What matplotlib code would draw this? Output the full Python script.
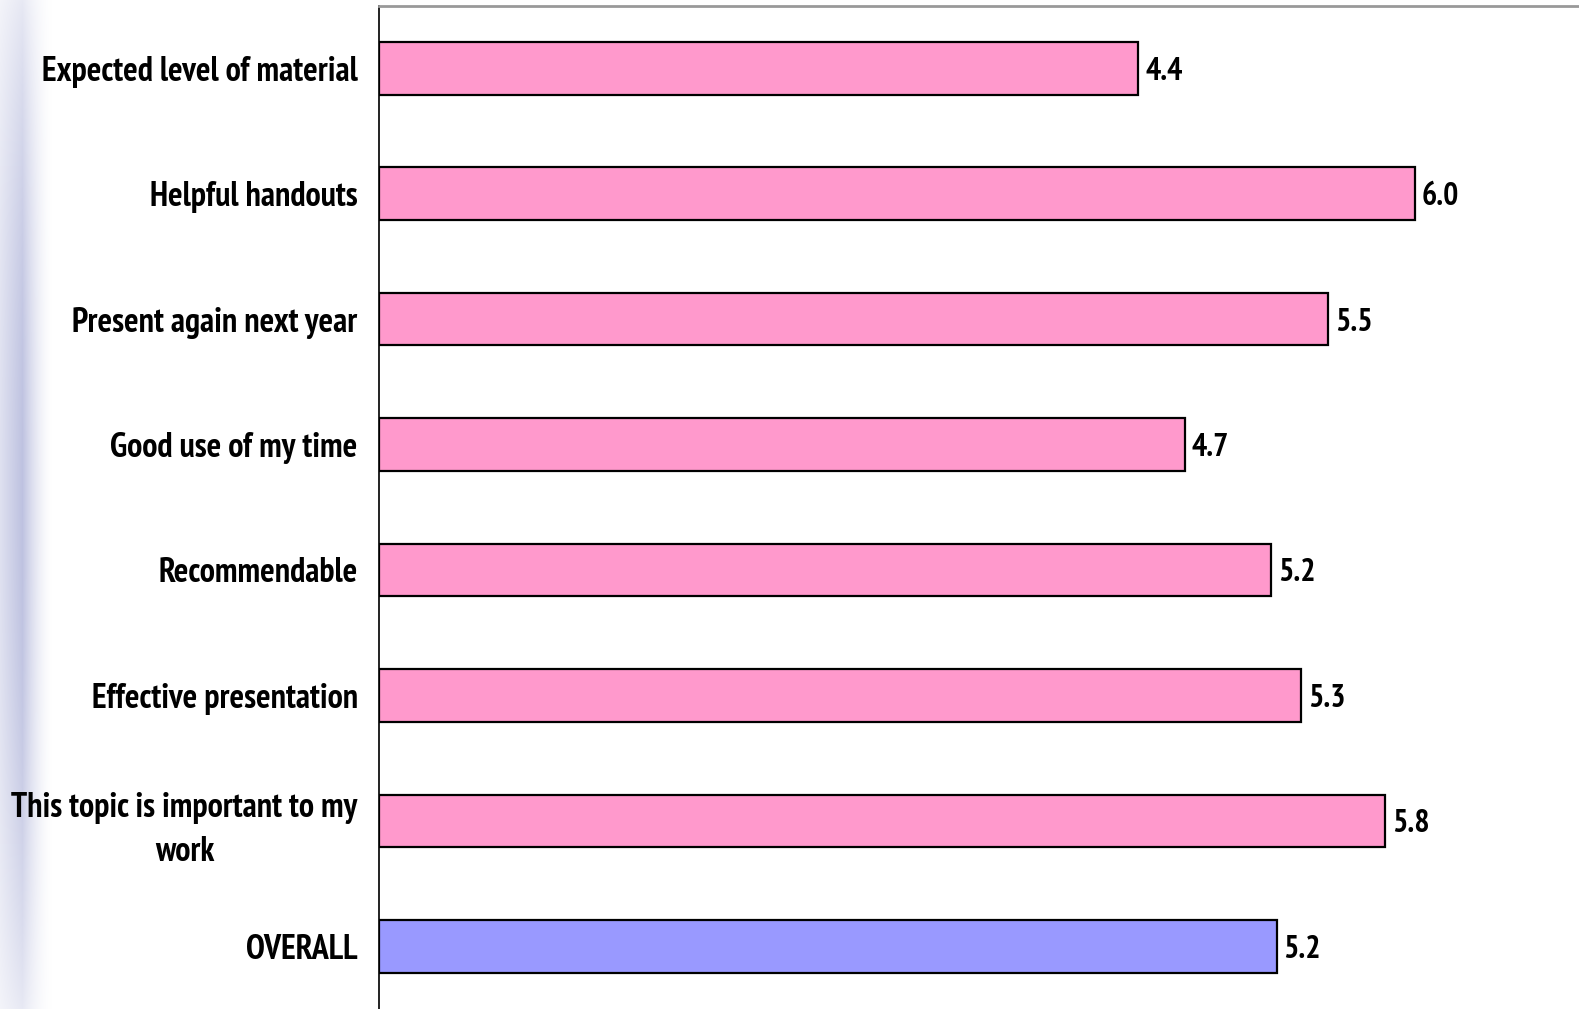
import numpy as np
import matplotlib
matplotlib.use("Agg")
import matplotlib.pyplot as plt
from matplotlib import font_manager

categories = ["Expected level of material", "Helpful handouts", "Present again next year",
              "Good use of my time", "Recommendable", "Effective presentation",
              "This topic is important to my\nwork", "OVERALL"]
values = [4.4, 6.0, 5.5, 4.67, 5.17, 5.34, 5.83, 5.2]
value_labels = ["4.4", "6.0", "5.5", "4.7", "5.2", "5.3", "5.8", "5.2"]
colors = ["#FF99CC"] * 7 + ["#9999FF"]

bold_names = {f.name for f in font_manager.fontManager.ttflist if f.weight in (700, "bold")}
fam = "Liberation Sans"
for cand in ["Liberation Sans Narrow", "Arial Narrow", "PT Sans Narrow", "Roboto Condensed",
             "Fira Sans Condensed", "Encode Sans Condensed", "Barlow Semi Condensed",
             "Asap Condensed"]:
    if cand in bold_names:
        fam = cand
        break

W, H = 1579, 1009
fig = plt.figure(figsize=(W / 100, H / 100), dpi=100)

# left decorative gradient
bg = fig.add_axes([0, 0, 1, 1])
bg.set_axis_off()
xs = np.arange(W).astype(float)
ys = np.arange(H).astype(float)
prof_x = np.clip(1 - (xs - 22) / 30.0, 0, 1) ** 1.6
prof_x[xs < 22] = 0.5 + 0.5 * (xs[xs < 22] / 22.0)
prof_y = 0.35 + 0.65 * np.sin(np.pi * ys / H) ** 0.8
inten = prof_y[:, None] * prof_x[None, :] * 0.75
base = np.array([0.66, 0.68, 0.84])
img = 1 - inten[..., None] * (1 - base[None, None, :])
bg.imshow(np.clip(img, 0, 1), extent=[0, 1, 0, 1], aspect="auto", zorder=0)
bg.set_xlim(0, 1)
bg.set_ylim(0, 1)

left = 378.5 / W
ax = fig.add_axes([left, 0.0, 1 - left, 1 - 5.5 / H])
ax.patch.set_alpha(0)
y = np.arange(len(categories))
ax.barh(y, values, height=0.42, color=colors, edgecolor="black", linewidth=1.6, zorder=3)
ax.set_ylim(len(categories) - 0.5, -0.5)
ax.set_xlim(0, (W - 378.5) / 172.7)
ax.set_yticks(y)
ax.set_yticklabels(categories, fontfamily=fam, fontweight="bold", fontsize=24.5,
                   multialignment="center", linespacing=1.45)
ax.tick_params(axis="y", length=0, pad=15)
ax.set_xticks([])
for s in ["right", "bottom"]:
    ax.spines[s].set_visible(False)
ax.spines["left"].set_color("#222222")
ax.spines["left"].set_linewidth(1.4)
ax.spines["top"].set_color("#999999")
ax.spines["top"].set_linewidth(2)

for yi, v, lab in zip(y, values, value_labels):
    ax.text(v + 0.04, yi, lab, va="center_baseline", ha="left", fontfamily=fam,
            fontweight="bold", fontsize=23, zorder=4)

fig.savefig("out.png", dpi=100)
